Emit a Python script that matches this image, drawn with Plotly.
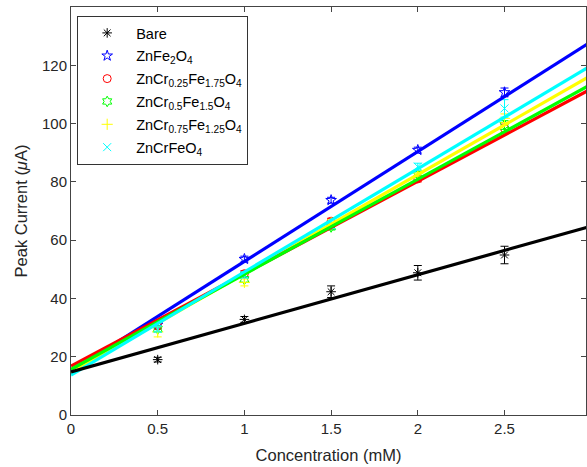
import plotly.graph_objects as go

# ---- data ----
conc = [0.5, 1.0, 1.5, 2.0, 2.5]

names = ["Bare", "ZnFe<sub>2</sub>O<sub>4</sub>",
         "ZnCr<sub>0.25</sub>Fe<sub>1.75</sub>O<sub>4</sub>",
         "ZnCr<sub>0.5</sub>Fe<sub>1.5</sub>O<sub>4</sub>",
         "ZnCr<sub>0.75</sub>Fe<sub>1.25</sub>O<sub>4</sub>",
         "ZnCrFeO<sub>4</sub>"]

bare = [19.0, 32.8, 42.3, 48.8, 54.9]
bare_err = [0.8, 1.0, 2.0, 2.5, 3.0]
znfe = [31.0, 53.5, 73.7, 90.9, 110.7]
znfe_err = [1.0, 1.0, 1.0, 1.0, 1.5]
cr025 = [30.5, 48.5, 66.5, 81.0, 98.3]
cr025_err = [1.0, 1.0, 1.0, 1.0, 1.5]
cr05 = [29.5, 46.5, 64.5, 82.5, 99.5]
cr05_err = [1.0, 1.0, 1.0, 1.0, 1.5]
cr075 = [28.5, 45.5, 66.0, 83.0, 101.8]
cr075_err = [1.7, 1.2, 1.0, 1.0, 1.5]
crfe = [29.5, 48.0, 65.0, 85.2, 105.2]
crfe_err = [1.0, 1.0, 1.0, 1.2, 3.0]

# linear-fit lines: values at x = 0 and x = 3
fit_x = [0.0, 3.0]
fit_bare = [14.8, 64.8]
fit_znfe = [15.0, 128.1]
fit_cr025 = [16.8, 111.9]
fit_cr05 = [15.7, 113.5]
fit_cr075 = [14.5, 116.5]
fit_crfe = [13.7, 119.9]

x_ticks = [0, 0.5, 1, 1.5, 2, 2.5]
y_ticks = [0, 20, 40, 60, 80, 100, 120]

series = [
    (names[0], bare, bare_err, fit_bare, "#000000", "asterisk-open"),
    (names[1], znfe, znfe_err, fit_znfe, "#0000FF", "star-open"),
    (names[2], cr025, cr025_err, fit_cr025, "#FF0000", "circle-open"),
    (names[3], cr05, cr05_err, fit_cr05, "#00FF00", "hexagram-open"),
    (names[4], cr075, cr075_err, fit_cr075, "#FFFF00", "cross-thin-open"),
    (names[5], crfe, crfe_err, fit_crfe, "#00FFFF", "x-thin-open"),
]

fig = go.Figure()
for name, vals, err, fit, col, sym in series:
    fig.add_trace(go.Scatter(
        x=conc, y=vals, mode="markers", name=name, legendgroup=name,
        marker=dict(symbol=sym, size=8, color=col, line=dict(color=col, width=1)),
        error_y=dict(type="data", array=err, color=col, thickness=1, width=4),
    ))

line_order = [1, 4, 2, 3, 5, 0]
for i in line_order:
    name, vals, err, fit, col, sym = series[i]
    fig.add_trace(go.Scatter(
        x=fit_x, y=fit, mode="lines", showlegend=False, hoverinfo="skip",
        legendgroup=name, line=dict(color=col, width=3.2),
    ))

axis_common = dict(
    showline=True, linecolor="#444444", linewidth=1, mirror="ticks",
    ticks="inside", ticklen=5, tickcolor="#444444", showgrid=False,
    zeroline=False, tickfont=dict(size=15, color="#262626"),
)

fig.update_layout(
    width=587, height=467,
    margin=dict(l=71, r=1, t=7, b=52),
    paper_bgcolor="white", plot_bgcolor="white",
    font=dict(family="Arial, Liberation Sans, sans-serif", color="#262626"),
    xaxis=dict(range=[0, 2.97], tickvals=x_ticks,
               title=dict(text="Concentration (mM)", font=dict(size=16.5), standoff=13),
               **axis_common),
    yaxis=dict(range=[0, 140], tickvals=y_ticks,
               title=dict(text="Peak Current (<i>μ</i>A)", font=dict(size=16.5), standoff=10),
               **axis_common),
    legend=dict(x=0.012, y=0.978, xanchor="left", yanchor="top",
                bordercolor="#333333", borderwidth=1, bgcolor="white",
                font=dict(size=14.5, color="#000000"), traceorder="grouped",
                tracegroupgap=1, itemwidth=48),
    showlegend=True,
)

fig.write_html(
    "out.html",
    config={"displayModeBar": False},
    post_script="document.documentElement.style.overflow='hidden';"
                "document.body.style.margin='0';document.body.style.overflow='hidden';",
)
